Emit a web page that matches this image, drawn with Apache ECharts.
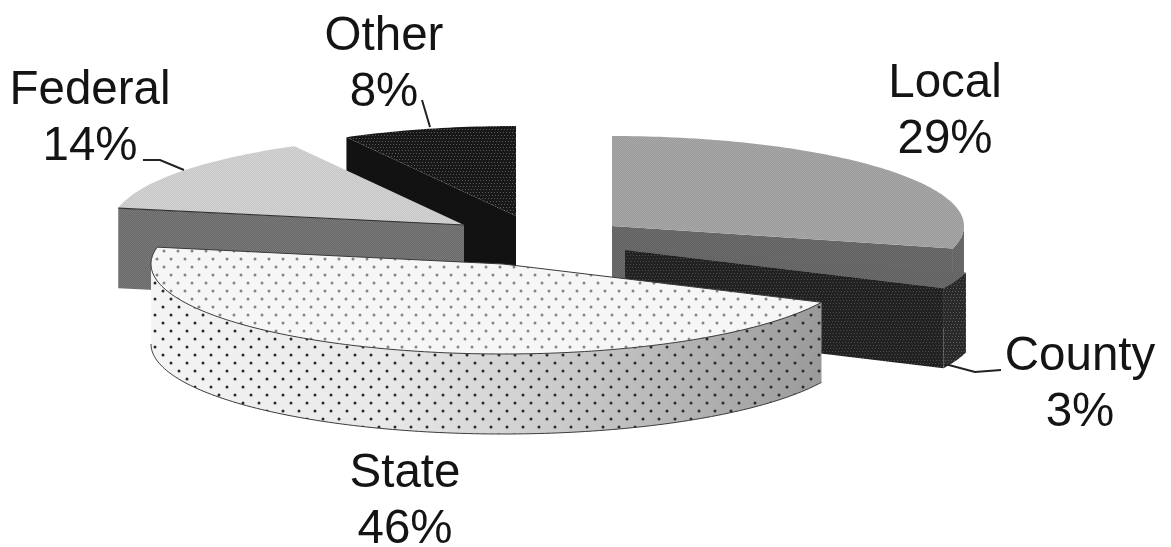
<!DOCTYPE html>
<html>
<head>
<meta charset="utf-8">
<style>html,body{margin:0;padding:0;background:#fff}#chart{width:1171px;height:547px}</style>
<script src="https://cdn.jsdelivr.net/npm/echarts@6/dist/echarts.min.js"></script>
</head>
<body>
<div id="chart"></div>
<script>
// Funding shares, clockwise from twelve o'clock
const categories = ['Local', 'County', 'State', 'Federal', 'Other'];
const shares = [29, 3, 46, 14, 8];

// Back-to-front painting sequence of the slices
const paintOrder = [4, 3, 0, 1, 2];

// Pie projection
const pie = { cx: 520, cy: 240, rx: 352, ry: 90, depth: 80 };
// How far each slice is pulled out of the pie
const pullOut = [[92, -14], [105, 10], [-17, 24], [-56, -15], [-4, -24]];
// Where each label block sits
const labelAt = [[945, 112], [1080, 385], [405, 502], [90, 119], [384, 65]];
// Leader lines for the labels that need one
const leaders = {
  1: [[945, 364], [975, 372], [1001, 370]],
  3: [[143, 160], [160, 160], [184, 170]],
  4: [[422, 100], [430, 127]]
};

// Small repeating textures standing in for printed halftones
function tile(w, h, paint) {
  const c = document.createElement('canvas');
  c.width = w; c.height = h;
  paint(c.getContext('2d'));
  return { image: c, repeat: 'repeat' };
}
function dots(w, h, bg, color, r, spots) {
  return tile(w, h, ctx => {
    if (bg) { ctx.fillStyle = bg; ctx.fillRect(0, 0, w, h); }
    ctx.fillStyle = color;
    spots.forEach(s => { ctx.beginPath(); ctx.arc(s[0], s[1], r, 0, Math.PI * 2); ctx.fill(); });
  });
}
function screen(bg, fg) {
  return tile(2, 2, ctx => {
    ctx.fillStyle = bg; ctx.fillRect(0, 0, 2, 2);
    ctx.fillStyle = fg; ctx.fillRect(0, 0, 1, 1); ctx.fillRect(1, 1, 1, 1);
  });
}
function speckle(bg, fg, step) {
  const n = step * 5;
  return tile(n, n, ctx => {
    ctx.fillStyle = bg; ctx.fillRect(0, 0, n, n);
    ctx.fillStyle = fg;
    for (let i = 0; i < 5; i++) {
      for (let j = 0; j < 5; j++) {
        ctx.fillRect(i * step + (j * 2) % step, j * step + (i * 3) % step, 1, 1);
      }
    }
  });
}

const styles = [
  { top: screen('#9a9a9a', '#a8a8a8'), face: screen('#5e5e5e', '#707070'), rim: screen('#5e5e5e', '#707070') },
  { top: screen('#5e5e5e', '#6e6e6e'), face: speckle('#222222', '#4c4c4c', 3), rim: speckle('#2a2a2a', '#5c5c5c', 3) },
  {
    top: dots(14, 16, '#f6f6f6', '#848484', 1.5, [[3, 3], [10, 11]]),
    rim: {
      type: 'linear', x: 0, y: 0, x2: 1, y2: 0,
      colorStops: [{ offset: 0, color: '#f4f4f4' }, { offset: 0.35, color: '#e8e8e8' }, { offset: 0.65, color: '#c6c6c6' }, { offset: 1, color: '#9a9a9a' }]
    },
    rimOverlay: dots(16, 16, null, '#2a2a2a', 1.5, [[3, 3], [11, 11]]),
    line: '#3a3a3a'
  },
  { top: screen('#c6c6c6', '#d4d4d4'), face: screen('#666666', '#7c7c7c'), rim: '#777777', edge: '#333333' },
  { top: speckle('#181818', '#5a5a5a', 3), face: '#121212', rim: '#121212' }
];

const TAU = Math.PI * 2;
const total = shares.reduce((a, b) => a + b, 0);
const starts = [];
shares.reduce((sum, v, i) => { starts[i] = sum / total * TAU; return sum + v; }, 0);

function rimPoint(c, a, drop) {
  return [c[0] + pie.rx * Math.sin(a), c[1] - pie.ry * Math.cos(a) + drop];
}
function arc(c, a0, a1, drop) {
  const n = Math.max(2, Math.ceil(Math.abs(a1 - a0) / 0.02));
  const pts = [];
  for (let i = 0; i <= n; i++) pts.push(rimPoint(c, a0 + (a1 - a0) * i / n, drop));
  return pts;
}
function poly(points, fill, stroke, width) {
  return { type: 'polygon', shape: { points }, style: { fill, stroke: stroke || null, lineWidth: width || 0 } };
}

function renderSlice(params, api) {
  const i = api.value(0);
  const share = api.value(1);
  const a0 = starts[i];
  const a1 = a0 + share / total * TAU;
  const c = [pie.cx + pullOut[i][0], pie.cy + pullOut[i][1]];
  const low = [c[0], c[1] + pie.depth];
  const s = styles[i];
  const kids = [];

  // Cut faces that turn towards the viewer
  [[a0, Math.sin(a0) < -1e-6], [a1, Math.sin(a1) > 1e-6]].forEach(f => {
    if (f[1]) kids.push(poly([c, rimPoint(c, f[0], 0), rimPoint(c, f[0], pie.depth), low], s.face || s.rim));
  });

  // Outer wall: only the front half of the ellipse is in view
  const from = Math.max(a0, Math.PI / 2);
  const to = Math.min(a1, Math.PI * 1.5);
  if (to > from) {
    const wall = arc(c, from, to, 0).concat(arc(c, to, from, pie.depth));
    kids.push(poly(wall, s.rim));
    if (s.rimOverlay) kids.push(poly(wall, s.rimOverlay));
    if (s.line) {
      kids.push({
        type: 'polyline', shape: { points: arc(c, from, to, pie.depth) },
        style: { fill: null, stroke: s.line, lineWidth: 1 }
      });
    }
  }

  // Top surface
  kids.push(poly([c].concat(arc(c, a0, a1, 0)), s.top, s.line, s.line ? 1 : 0));
  if (s.edge) {
    kids.push({
      type: 'polyline', shape: { points: [rimPoint(c, a0, 0), c] },
      style: { fill: null, stroke: s.edge, lineWidth: 1.2 }
    });
  }

  // Leader line and label
  if (leaders[i]) {
    kids.push({
      type: 'polyline', shape: { points: leaders[i] },
      style: { fill: null, stroke: '#222222', lineWidth: 2 }
    });
  }
  kids.push({
    type: 'text', x: labelAt[i][0], y: labelAt[i][1],
    style: {
      text: categories[i] + '\n' + share + '%',
      font: '47.5px "Liberation Sans", Arial, sans-serif',
      lineHeight: 56, fill: '#141414', align: 'center', verticalAlign: 'middle'
    }
  });
  return { type: 'group', children: kids };
}

const chart = echarts.init(document.getElementById('chart'), null, { renderer: 'canvas' });
chart.setOption({
  animation: false,
  backgroundColor: '#ffffff',
  series: [{
    type: 'custom',
    coordinateSystem: 'none',
    silent: true,
    renderItem: renderSlice,
    data: paintOrder.map(i => [i, shares[i]])
  }]
});
</script>
</body>
</html>
